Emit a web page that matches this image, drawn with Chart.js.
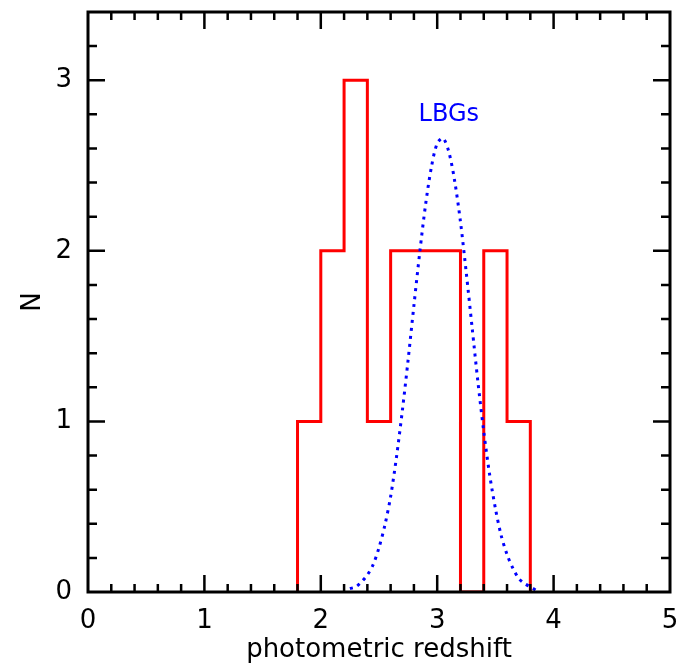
<!DOCTYPE html>
<html>
<head>
<meta charset="utf-8">
<script src="https://cdn.jsdelivr.net/npm/chart.js@4.4.1/dist/chart.umd.min.js"></script>
<style>
  html, body { margin: 0; padding: 0; background: #fff; }
  #wrap { width: 679px; height: 666px; }
</style>
</head>
<body>
<div id="wrap"><canvas id="zChart"></canvas></div>
<script>
// histogram of photometric redshifts (bin edges + counts)
const binEdges = [1.8, 2.0, 2.2, 2.4, 2.6, 2.8, 3.0, 3.2, 3.4, 3.6, 3.8];
const binCounts = [1, 2, 3, 1, 2, 2, 2, 0, 2, 1];

// LBG distribution (dotted blue curve)
const lbgZ = [2.25, 2.30, 2.35, 2.40, 2.45, 2.50, 2.55, 2.60, 2.65, 2.70, 2.75, 2.80, 2.85, 2.90, 2.95,
  3.00, 3.05, 3.10, 3.15, 3.20, 3.25, 3.30, 3.35, 3.40, 3.45, 3.50, 3.55, 3.60, 3.65, 3.70, 3.75, 3.80, 3.85];
const lbgN = [0.02, 0.03, 0.06, 0.10, 0.16, 0.26, 0.39, 0.56, 0.79, 1.06, 1.36, 1.68, 1.99, 2.27, 2.49,
  2.63, 2.66, 2.58, 2.41, 2.17, 1.87, 1.55, 1.23, 0.94, 0.69, 0.49, 0.33, 0.22, 0.14, 0.08, 0.05, 0.03, 0.01];

const xRange = [0, 5];
const yRange = [0, 3.4];
const minorStep = 0.2;
const lbgLabel = { text: 'LBGs', x: 3.1, y: 2.8 };

const histPts = [{ x: binEdges[0], y: 0 }];
binCounts.forEach((c, i) => histPts.push({ x: binEdges[i], y: c }));
histPts.push({ x: binEdges[binEdges.length - 1], y: 0 });

const lbgPts = lbgZ.map((z, i) => ({ x: z, y: lbgN[i] }));

// IDL-style frame: box with inward ticks on all four sides
const frameTicks = {
  id: 'frameTicks',
  afterDatasetsDraw(chart) {
    const { ctx, chartArea: a, scales: { x, y } } = chart;
    ctx.save();
    ctx.strokeStyle = '#000';
    ctx.lineWidth = 3;
    ctx.strokeRect(a.left, a.top, a.right - a.left, a.bottom - a.top);
    ctx.lineWidth = 2.5;
    ctx.beginPath();
    const nx = Math.round((xRange[1] - xRange[0]) / minorStep);
    for (let k = 1; k < nx; k++) {
      const px = x.getPixelForValue(xRange[0] + k * minorStep);
      const len = k % 5 === 0 ? 17 : 8;
      ctx.moveTo(px, a.bottom); ctx.lineTo(px, a.bottom - len);
      ctx.moveTo(px, a.top); ctx.lineTo(px, a.top + len);
    }
    const ny = Math.floor((yRange[1] - yRange[0]) / minorStep + 1e-6);
    for (let k = 1; k <= ny; k++) {
      const py = y.getPixelForValue(yRange[0] + k * minorStep);
      if (Math.abs(py - a.top) < 1) continue;
      const len = k % 5 === 0 ? 17 : 9;
      ctx.moveTo(a.left, py); ctx.lineTo(a.left + len, py);
      ctx.moveTo(a.right, py); ctx.lineTo(a.right - len, py);
    }
    ctx.stroke();

    ctx.fillStyle = '#0000ff';
    ctx.font = '24px "DejaVu Sans"';
    ctx.textAlign = 'center';
    ctx.textBaseline = 'middle';
    ctx.fillText(lbgLabel.text, x.getPixelForValue(lbgLabel.x), y.getPixelForValue(lbgLabel.y));
    ctx.restore();
  }
};

const ctx = document.getElementById('zChart').getContext('2d');

new Chart(ctx, {
  type: 'line',
  data: {
    datasets: [
      {
        label: 'LBGs',
        data: lbgPts,
        borderColor: '#0000ff',
        borderWidth: 3,
        borderDash: [3, 5],
        pointRadius: 0,
        tension: 0.3,
        fill: false,
        order: 0
      },
      {
        label: 'photo-z',
        data: histPts,
        borderColor: '#ff0000',
        borderWidth: 3,
        stepped: 'before',
        pointRadius: 0,
        fill: false,
        order: 1
      }
    ]
  },
  options: {
    responsive: true,
    maintainAspectRatio: false,
    animation: false,
    layout: { padding: { top: 12, right: 9, left: 0, bottom: 0 } },
    plugins: {
      legend: { display: false },
      tooltip: { enabled: false }
    },
    scales: {
      x: {
        type: 'linear',
        min: xRange[0],
        max: xRange[1],
        grid: { display: false, drawTicks: false },
        border: { display: false },
        ticks: {
          stepSize: 1,
          includeBounds: false,
          maxRotation: 0,
          padding: 14,
          color: '#000',
          font: { family: 'DejaVu Sans', size: 26, lineHeight: 1.2 }
        },
        title: {
          display: true,
          text: 'photometric redshift',
          color: '#000',
          padding: { top: 0, bottom: 0 },
          font: { family: 'DejaVu Sans', size: 26, lineHeight: 1.2 }
        },
        afterFit(scale) {
          scale.height = 74;
          scale.paddingLeft = 0;
          scale.paddingRight = 0;
        }
      },
      y: {
        type: 'linear',
        min: yRange[0],
        max: yRange[1],
        grid: { display: false, drawTicks: false },
        border: { display: false },
        ticks: {
          stepSize: 1,
          includeBounds: false,
          padding: 16,
          color: '#000',
          font: { family: 'DejaVu Sans', size: 26, lineHeight: 1.2 }
        },
        title: {
          display: true,
          text: 'N',
          color: '#000',
          padding: { top: 18, bottom: 0 },
          font: { family: 'DejaVu Sans', size: 26, lineHeight: 1.2 }
        },
        afterFit(scale) {
          scale.width = 88;
          scale.paddingTop = 0;
          scale.paddingBottom = 0;
        }
      }
    }
  },
  plugins: [frameTicks]
});
</script>
</body>
</html>
